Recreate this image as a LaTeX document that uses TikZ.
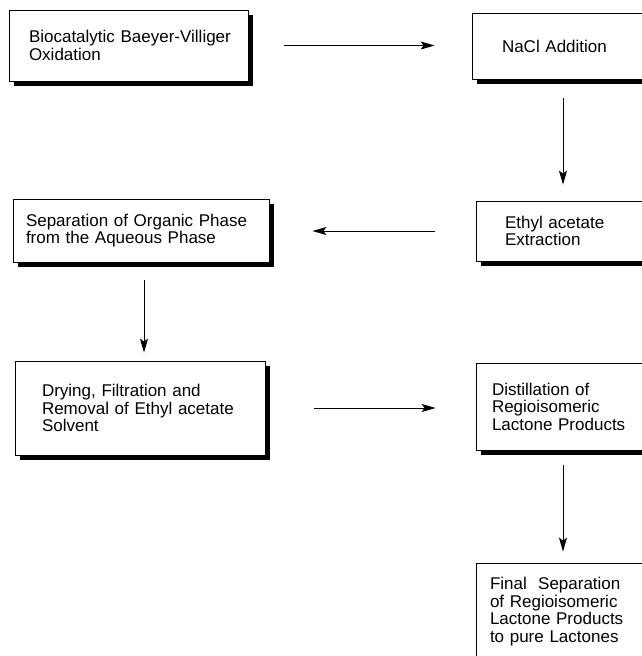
\documentclass[tikz,border=0pt]{standalone}
\usepackage{fontspec}
\setmainfont{Liberation Sans}
\usetikzlibrary{arrows.meta, shadows}
\tikzset{
  % Process step box
  stepbox/.style={
    draw, rectangle, fill=white, line width=0.8pt,
    align=left, inner sep=0pt,
    font=\fontsize{17}{17.5}\selectfont,
    drop shadow={shadow xshift=5pt, shadow yshift=-5pt,
                 fill=black, opacity=1}
  },
  % Flow arrow
  flow/.style={
    -{Stealth[length=14pt, width=8pt, inset=3pt]}, line width=0.9pt
  },
}

\begin{document}
\begin{tikzpicture}[x=1pt, y=-1pt]

  \useasboundingbox (0,0) rectangle (641,656);

  %% -- Steps, left column --
  \node[stepbox, minimum width=239pt, minimum height=71pt, text width=199pt]
    (bvo) at (128.5,45.5) {\mbox{Biocatalytic Baeyer-Villiger}\\Oxidation};
  \node[stepbox, minimum width=256pt, minimum height=63pt, text width=230pt]
    (sep) at (141,230.5) {Separation of Organic Phase\\from the Aqueous Phase};
  \node[stepbox, minimum width=250pt, minimum height=94pt, text width=196pt]
    (dry) at (140,408) {Drying, Filtration and\\Removal of Ethyl acetate\\Solvent};

  %% -- Steps, right column (run past the page edge) --
  \node[stepbox, minimum width=188pt, minimum height=66pt, text width=128pt]
    (nacl) at (566,46) {NaCl Addition};
  \node[stepbox, minimum width=184pt, minimum height=60pt, text width=126pt]
    (ethyl) at (568,231) {Ethyl acetate\\Extraction};
  \node[stepbox, minimum width=184pt, minimum height=87pt, text width=152pt]
    (dist) at (568,406.5) {Distillation of\\Regioisomeric\\Lactone Products};
  \node[stepbox, minimum width=184pt, minimum height=97pt, text width=156pt]
    (final) at (568,611.5) {Final\ \ Separation\\of Regioisomeric\\Lactone Products\\to pure Lactones};

  %% -- Flow --
  \draw[flow, shorten <=36pt, shorten >=37pt] (bvo.east) -- (bvo.east -| nacl.west);
  \draw[flow, shorten <=19pt, shorten >=16pt] ([xshift=-3pt]nacl.south) -- ([xshift=-3pt]nacl.south |- ethyl.north);
  \draw[flow, shorten <=41pt, shorten >=43pt] (ethyl.west) -- (ethyl.west -| sep.east);
  \draw[flow, shorten <=18pt, shorten >=8pt] ([xshift=3pt]sep.south) -- ([xshift=3pt]sep.south |- dry.north);
  \draw[flow, shorten <=49pt, shorten >=40pt] (dry.east) -- (dry.east -| dist.west);
  \draw[flow, shorten <=15pt, shorten >=11pt] ([xshift=-5pt]dist.south) -- ([xshift=-5pt]dist.south |- final.north);

\end{tikzpicture}
\end{document}
